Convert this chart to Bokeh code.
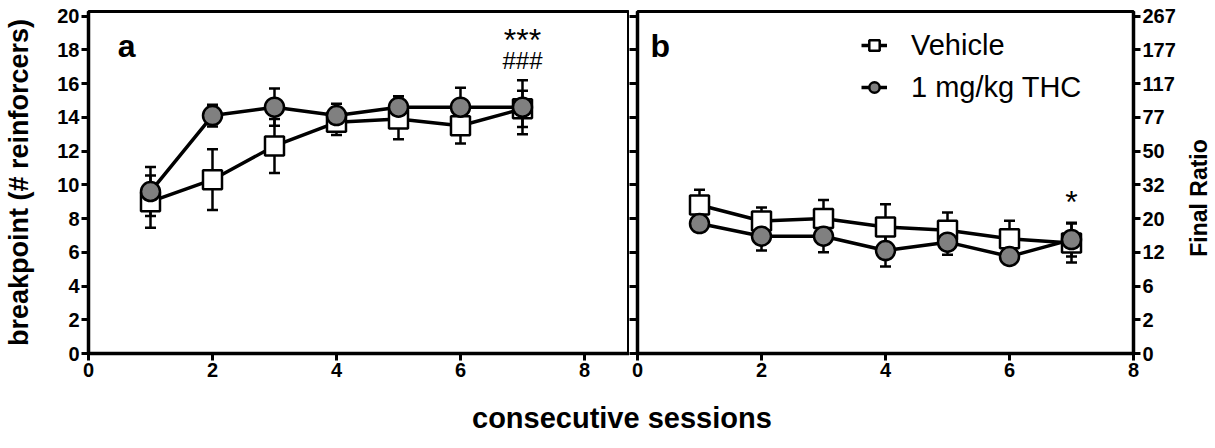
from bokeh.plotting import figure
from bokeh.models import (ColumnDataSource, Whisker, TeeHead, FixedTicker, Range1d,
                          Legend, LegendItem, Label, Div, LinearAxis, CustomJSTickFormatter)
from bokeh.layouts import row, column
from bokeh.embed import file_html
from bokeh.resources import INLINE

# ---------------- data ----------------
sessions = [1, 2, 3, 4, 5, 6, 7]

a_vehicle = [9.0, 10.3, 12.3, 13.7, 13.9, 13.5, 14.5]
a_vehicle_sem = [1.55, 1.8, 1.6, 0.75, 1.2, 1.05, 1.07]
a_thc = [9.6, 14.1, 14.6, 14.1, 14.6, 14.6, 14.6]
a_thc_sem = [1.45, 0.65, 1.1, 0.7, 0.65, 1.15, 1.6]

b_vehicle = [8.8, 7.85, 8.0, 7.5, 7.3, 6.8, 6.55]
b_vehicle_sem = [0.9, 0.8, 1.1, 1.35, 1.05, 1.07, 1.15]
b_thc = [7.7, 6.95, 6.95, 6.1, 6.6, 5.75, 6.75]
b_thc_sem = [0.3, 0.85, 0.95, 0.95, 0.75, 0.4, 1.0]

x_ticks = [0, 2, 4, 6, 8]
y_ticks = [0, 2, 4, 6, 8, 10, 12, 14, 16, 18, 20]
final_ratio_labels = ["0", "2", "6", "12", "20", "32", "50", "77", "117", "177", "267"]

series_names = ["Vehicle", "1 mg/kg THC"]
series_fill = ["white", "#808080"]
series_marker = ["square", "circle"]

FONT = "Liberation Sans"
Y_END = 20.27


def style_axis(ax, ticks):
    ax.ticker = FixedTicker(ticks=ticks)
    ax.axis_line_width = 3.5
    ax.axis_line_color = "black"
    ax.major_tick_line_width = 3
    ax.major_tick_out = 7
    ax.major_tick_in = 0
    ax.minor_tick_out = 0
    ax.minor_tick_in = 0
    ax.major_label_text_font = FONT
    ax.major_label_text_font_style = "bold"
    ax.major_label_text_font_size = "20px"
    ax.major_label_text_color = "black"
    ax.major_label_standoff = 2
    ax.axis_label_text_font = FONT
    ax.axis_label_text_font_style = "bold"
    ax.axis_label_text_font_size = "27px"
    ax.axis_label_text_color = "black"


def make_panel(p, ys_list, sems_list):
    rends = []
    for ys, sems, fill, marker in zip(ys_list, sems_list, series_fill, series_marker):
        src = ColumnDataSource(dict(
            x=sessions, y=ys,
            lo=[v - s for v, s in zip(ys, sems)],
            hi=[v + s for v, s in zip(ys, sems)]))
        w = Whisker(source=src, base="x", lower="lo", upper="hi",
                    line_width=2.5, line_color="black", level="underlay",
                    upper_head=TeeHead(size=11, line_width=2.5, line_color="black"),
                    lower_head=TeeHead(size=11, line_width=2.5, line_color="black"))
        p.add_layout(w)
        ln = p.line("x", "y", source=src, line_width=3.5, line_color="black")
        sc = p.scatter("x", "y", source=src, marker=marker, size=19,
                       fill_color=fill, line_color="black", line_width=2.5)
        rends.append((ln, sc))
    return rends


def base_fig(width, left, right):
    p = figure(width=width, height=390, x_range=Range1d(0, 8), y_range=Range1d(0, Y_END),
               output_backend="svg", toolbar_location=None,
               min_border_left=left, min_border_right=right,
               min_border_top=11, min_border_bottom=37)
    p.xgrid.visible = False
    p.ygrid.visible = False
    p.outline_line_color = "black"
    p.outline_line_width = 3
    p.outline_line_alpha = 1
    p.background_fill_color = "white"
    p.border_fill_color = "white"
    return p


def txt(p, x, y, s, size, bold=False, baseline="middle", align="center"):
    p.add_layout(Label(x=x, y=y, text=s, text_font=FONT,
                       text_font_style="bold" if bold else "normal",
                       text_font_size=size, text_color="black",
                       text_baseline=baseline, text_align=align))


# ---------------- panel a ----------------
p1 = base_fig(629, 88, 0)
p1.x_range = Range1d(0, 8.726)
style_axis(p1.xaxis[0], x_ticks)
style_axis(p1.yaxis[0], y_ticks)
p1.yaxis[0].axis_label = "breakpoint (# reinforcers)"
p1.yaxis[0].axis_label_standoff = 20
make_panel(p1, [a_vehicle, a_thc], [a_vehicle_sem, a_thc_sem])

txt(p1, 0.47, 18.2, "a", "32px", bold=True, baseline="alphabetic", align="left")
txt(p1, 7, 18.6, "***", "32px")
txt(p1, 7, 17.35, "###", "24px")

# ---------------- panel b ----------------
p2 = base_fig(550, 8, 46)
style_axis(p2.xaxis[0], x_ticks)
style_axis(p2.yaxis[0], y_ticks)
p2.yaxis[0].formatter = CustomJSTickFormatter(code="return ''")
p2.yaxis[0].major_label_standoff = 0
p2.yaxis[0].major_tick_out = 8

rax = LinearAxis(major_label_overrides={t: l for t, l in zip(y_ticks, final_ratio_labels)})
style_axis(rax, y_ticks)
p2.add_layout(rax, "right")

rb = make_panel(p2, [b_vehicle, b_thc], [b_vehicle_sem, b_thc_sem])

txt(p2, 0.21, 18.2, "b", "32px", bold=True, baseline="alphabetic", align="left")
txt(p2, 7, 8.95, "*", "32px")

legend = Legend(items=[LegendItem(label=n, renderers=[ln, sc]) for n, (ln, sc) in zip(series_names, rb)],
                location=(224, 249), orientation="vertical",
                label_text_font=FONT, label_text_font_size="29px", label_text_color="black",
                glyph_width=26, glyph_height=34, label_standoff=24, spacing=8,
                padding=0, margin=0, border_line_alpha=0, background_fill_alpha=0)
p2.add_layout(legend)

# right-hand axis title, reading bottom-to-top
ratio_title = Div(text="<div style=\"position:relative;width:30px;height:360px;\">"
                       "<span style=\"position:absolute;left:15px;top:193px;"
                       "transform:translate(-50%,-50%) rotate(-90deg);white-space:nowrap;"
                       "font-family:'Liberation Sans';font-weight:bold;font-size:23px;"
                       "color:black;\">Final Ratio</span></div>",
                  width=36, height=370)

xlabel = Div(text="<div style=\"font-family:'Liberation Sans';font-weight:bold;"
                  "font-size:29px;padding-top:3px;padding-left:467px;color:black;"
                  "white-space:nowrap;\">consecutive sessions</div>",
             width=1215, height=42)

layout = column(row(p1, p2, ratio_title), xlabel)

open("out.html", "w").write(file_html(layout, INLINE))
